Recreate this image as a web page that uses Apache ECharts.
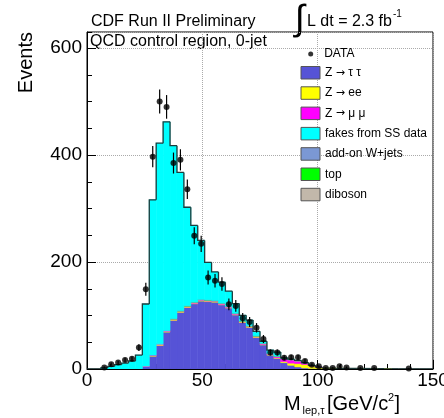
<!DOCTYPE html>
<html><head><meta charset="utf-8">
<script src="https://cdn.jsdelivr.net/npm/echarts@6/dist/echarts.min.js"></script>
<style>html,body{margin:0;padding:0;background:#fff}#c{width:444px;height:418px}</style>
</head><body><div id="c"></div>
<script>
// ---- binning (GeV) ----
const binStart = [0,3,6,9,12,15,18,21,24,27,30,33,36,39,42,45,48,51,54,57,60,63,66,69,72,75,78,81,84,87,90,93,96,99,102,105,108,111,114,117,120,123,126,129,132,135,138,141,144,147];
const binWidth = 3;

// ---- stacked MC components (events per bin) ----
const zTauTau = [0,0,0,0,0,0,0,0,5,24,44,69,91,106,115,122,127,126,125,120,114,101,87,78,59,45,26,20,12,7,4,2,1,0.5,0,0,0,0,0,0,0,0,0,0,0,0,0,0,0,0];
const zEE     = [0,0,0,0,0,0,0,0,0.3,1,1,1,1,1,1,1,1,1,1,1,1,1,1,1,1,1,1,1,2,4,6,6.5,4.5,2.5,1.8,1.5,1.3,1.1,1,0.9,0.9,0.7,0.5,0.3,0,0,0,0,0,0];
const zMuMu   = [0,0,0,0,0,0,0,0,0.2,0.8,0.8,0.8,0.8,0.8,0.8,0.8,0.8,0.8,0.8,0.8,0.8,0.8,0.8,0.8,0.8,0.8,0.8,2,5,6,5,3,1,0.5,0,0,0,0,0,0,0,0,0,0,0,0,0,0,0,0];
const diboson = [0,0,0,0,0,0,0,0,0,0,0.8,0.8,0.8,0.8,0.8,0.8,0.8,0.8,0.8,0.8,0.8,0.8,0.8,0.8,0.8,0.8,0.8,0.8,0.6,0.5,0.4,0,0,0,0,0,0,0,0,0,0,0,0,0,0,0,0,0,0,0];
const topQ    = [0,0,0,0,0,0,0,0,0,0,0,0,0.3,0.3,0.3,0.3,0.3,0.3,0.3,0.3,0.3,0.3,0.3,0.3,0.3,0.3,0.3,0.3,0.3,0.3,0.3,0.3,0.3,0,0,0,0,0,0,0,0,0,0,0,0,0,0,0,0,0];
const wJets   = [0,0,0,0,0,0,0,0,0,0.5,0.5,0.5,0.5,0.5,0.5,0.5,0.5,0.5,0.5,0.5,0.5,0.5,0.5,0.5,0.5,0.5,0.5,0.5,0,0,0,0,0,0,0,0,0,0,0,0,0,0,0,0,0,0,0,0,0,0];
const fakesSS = [0,0,2,5,8,11,15,26,116,290,375,390,323,258,184,143,110,70,53,39,28,18,10,10,8,3.5,6,7,1,0.5,0.3,0.3,0,0,0,0,0,0,0,0,0,0,0,0,0,0,0,0,0,0];

// ---- data points ----
const dataX   = [7.5,10.5,13.5,16.5,19.5,22.5,25.5,28.5,31.5,34.5,37.5,40.5,43.5,46.5,49.5,52.5,55.5,58.5,61.5,64.5,67.5,70.5,73.5,76.5,79.5,82.5,85.5,88.5,91.5,94.5,97.5,100.5,103.5,106.5,109.5,112.5,118.5,124.5,139.5];
const dataY   = [3,9,12,17,19,40,149,397,500,490,385,391,336,249,234,171,165,159,121,118,95,88,77,56,31,31,21,22,22,15,8,5,2,2,5,3,2,2,1];
const dataErr = [1.7,3,3.5,4.1,4.4,6.3,12.2,19.9,22.4,22.1,19.6,19.8,18.3,15.8,15.3,13.1,12.8,12.6,11,10.9,9.7,9.4,8.8,7.5,5.6,5.6,4.6,4.7,4.7,3.9,2.8,2.2,1.4,1.4,2.2,1.7,1.4,1.4,1];

// ---- axes ----
const xMin = 0, xMax = 150, xStep = 50;
const yMin = 0, yMax = 630, yStep = 200, yMinorStep = 50;

const FONT = 'Liberation Sans, Arial, Helvetica, sans-serif';

const names = {
  ztt: 'Z \u2192 \u03c4 \u03c4', zee: 'Z \u2192 ee', zmm: 'Z \u2192 \u03bc \u03bc',
  fakes: 'fakes from SS data', wj: 'add-on W+jets', top: 'top', dib: 'diboson', data: 'DATA'
};

// stacking order (bottom -> top)
const stackDefs = [
  {name: names.ztt, values: zTauTau, color: '#5653d6'},
  {name: names.zee, values: zEE, color: '#ffff00'},
  {name: names.zmm, values: zMuMu, color: '#ff00ff'},
  {name: names.dib, values: diboson, color: '#c2b8aa'},
  {name: names.top, values: topQ, color: '#00ff00'},
  {name: names.wj, values: wJets, color: '#7b98d4'},
  {name: names.fakes, values: fakesSS, color: '#00ffff'}
];

const cumulative = binStart.map(() => 0);
const histSeries = stackDefs.map(function (d) {
  const items = binStart.map(function (s, i) {
    const lo = cumulative[i];
    const hi = lo + d.values[i];
    cumulative[i] = hi;
    return [s, s + binWidth, lo, hi];
  });
  return {
    name: d.name, type: 'custom', silent: true, clip: true, z: 2,
    itemStyle: {color: d.color}, color: d.color,
    data: items, encode: {x: [0, 1], y: [2, 3]},
    renderItem: function (params, api) {
      const x0 = api.value(0), x1 = api.value(1), lo = api.value(2), hi = api.value(3);
      if (!(hi > lo)) return null;
      const a = api.coord([x0, hi]);
      const b = api.coord([x1, lo]);
      return {type: 'rect', shape: {x: a[0], y: a[1], width: b[0] - a[0], height: b[1] - a[1]},
              style: {fill: d.color, stroke: d.color, lineWidth: 0.6}};
    }
  };
});

// outline of the stack total
const totals = cumulative.slice();
const outlineSeries = {
  name: 'outline', type: 'custom', silent: true, clip: true, z: 3,
  data: binStart.map((s, i) => [s, s + binWidth, i > 0 ? totals[i - 1] : 0, totals[i]]),
  encode: {x: [0, 1], y: [2, 3]},
  renderItem: function (params, api) {
    const x0 = api.value(0), x1 = api.value(1), prev = api.value(2), cur = api.value(3);
    const p0 = api.coord([x0, prev]);
    const p1 = api.coord([x0, cur]);
    const p2 = api.coord([x1, cur]);
    return {type: 'polyline', shape: {points: [p0, p1, p2]},
            style: {stroke: '#1e3c3c', lineWidth: 1.3, fill: null}};
  }
};

const legendRich = {arr: {fontFamily: 'DejaVu Sans', fontSize: 11, color: '#000'}};
function legendFmt(n) { return n.replace('\u2192', '{arr|\u2192}'); }

const chart = echarts.init(document.getElementById('c'), null, {renderer: 'canvas'});
chart.setOption({
  animation: false,
  backgroundColor: '#fff',
  textStyle: {fontFamily: FONT},
  grid: {left: 87, right: 11, top: 32, bottom: 49, show: true, borderColor: '#000', borderWidth: 1,
         containLabel: false, outerBoundsMode: 'none'},
  xAxis: [{
    type: 'value', min: xMin, max: xMax, interval: xStep,
    axisLine: {show: true, lineStyle: {color: '#000', width: 1}},
    axisTick: {show: true, inside: true, length: 9, lineStyle: {color: '#000'}},
    minorTick: {show: true, splitNumber: 5, length: 5, lineStyle: {color: '#000'}},
    axisLabel: {fontSize: 19, color: '#000', margin: 2, fontFamily: FONT},
    splitLine: {show: true, lineStyle: {color: '#aaa', type: 'dotted', width: 1}}
  }],
  yAxis: [{
    type: 'value', position: 'left', min: yMin, max: yMax, interval: yStep,
    axisLine: {show: true, lineStyle: {color: '#000', width: 1}},
    axisTick: {show: true, inside: true, length: 9, lineStyle: {color: '#000'}},
    axisLabel: {fontSize: 19, color: '#000', margin: 5, showMaxLabel: false, fontFamily: FONT},
    splitLine: {show: true, lineStyle: {color: '#aaa', type: 'dotted', width: 1}}
  }, {
    type: 'value', position: 'left', min: yMin, max: yMax, interval: yMinorStep,
    axisLine: {show: false},
    axisTick: {show: true, inside: true, length: 5, lineStyle: {color: '#000'}},
    axisLabel: {show: false},
    splitLine: {show: false}
  }],
  legend: [{
    orient: 'vertical', left: 300.5, top: 66, padding: 0,
    itemWidth: 19, itemHeight: 12.5, itemGap: 6.8, icon: 'rect',
    selectedMode: false,
    itemStyle: {borderColor: '#555', borderWidth: 1},
    formatter: legendFmt,
    textStyle: {fontSize: 12, color: '#000', fontFamily: FONT, lineHeight: 12, rich: legendRich},
    data: [names.ztt, names.zee, names.zmm, names.fakes, names.wj, names.top, names.dib]
  }, {
    orient: 'vertical', left: 308.2, top: 48, padding: 0,
    itemWidth: 5, itemHeight: 5, icon: 'circle', selectedMode: false,
    textStyle: {fontSize: 12, color: '#000', fontFamily: FONT, lineHeight: 12, padding: [0, 0, 0, 6]},
    data: [names.data]
  }],
  graphic: [
    {type: 'text', x: 91, y: 22, style: {text: 'CDF Run II Preliminary', fontSize: 16, fontFamily: FONT, fill: '#000', align: 'left', verticalAlign: 'middle'}},
    {type: 'text', x: 300, y: 20, style: {text: '\u222b', fontSize: 36, fontFamily: FONT, fill: '#000', align: 'center', verticalAlign: 'middle'}},
    {type: 'text', x: 307, y: 22, style: {text: 'L dt = 2.3 fb', fontSize: 16, fontFamily: FONT, fill: '#000', align: 'left', verticalAlign: 'middle'}},
    {type: 'text', x: 393, y: 14, style: {text: '-1', fontSize: 10, fontFamily: FONT, fill: '#000', align: 'left', verticalAlign: 'middle'}},
    {type: 'text', x: 90, y: 41.5, style: {text: 'QCD control region, 0-jet', fontSize: 16, fontFamily: FONT, fill: '#000', align: 'left', verticalAlign: 'middle'}},
    {type: 'text', x: 26, y: 32, rotation: Math.PI / 2, style: {text: 'Events', fontSize: 20, fontFamily: FONT, fill: '#000', align: 'right', verticalAlign: 'middle'}},
    {type: 'text', x: 284, y: 404, style: {text: 'M', fontSize: 20, fontFamily: FONT, fill: '#000', align: 'left', verticalAlign: 'middle'}},
    {type: 'text', x: 302.5, y: 410.5, style: {text: 'lep,\u03c4', fontSize: 11, fontFamily: FONT, fill: '#000', align: 'left', verticalAlign: 'middle'}},
    {type: 'text', x: 327, y: 404, style: {text: '[GeV/c', fontSize: 20, fontFamily: FONT, fill: '#000', align: 'left', verticalAlign: 'middle'}},
    {type: 'text', x: 388, y: 398, style: {text: '2', fontSize: 11, fontFamily: FONT, fill: '#000', align: 'left', verticalAlign: 'middle'}},
    {type: 'text', x: 394.5, y: 404, style: {text: ']', fontSize: 20, fontFamily: FONT, fill: '#000', align: 'left', verticalAlign: 'middle'}}
  ],
  series: histSeries.concat([outlineSeries, {
      name: 'errors', type: 'custom', silent: true, z: 5,
      data: dataX.map((x, i) => [x, dataY[i], dataErr[i]]),
      encode: {x: 0, y: 1},
      renderItem: function (params, api) {
        const x = api.value(0), y = api.value(1), e = api.value(2);
        const p1 = api.coord([x, y - e]);
        const p2 = api.coord([x, y + e]);
        return {type: 'line', shape: {x1: p1[0], y1: p1[1], x2: p2[0], y2: p2[1]},
                style: {stroke: '#000', lineWidth: 1.2}};
      }
    }, {
      name: names.data, type: 'scatter', z: 6, symbol: 'circle', symbolSize: 6,
      color: '#000', itemStyle: {color: '#000'},
      data: dataX.map((x, i) => [x, dataY[i]]),
      emphasis: {disabled: true}, silent: true
    }])
});
</script>
</body></html>
